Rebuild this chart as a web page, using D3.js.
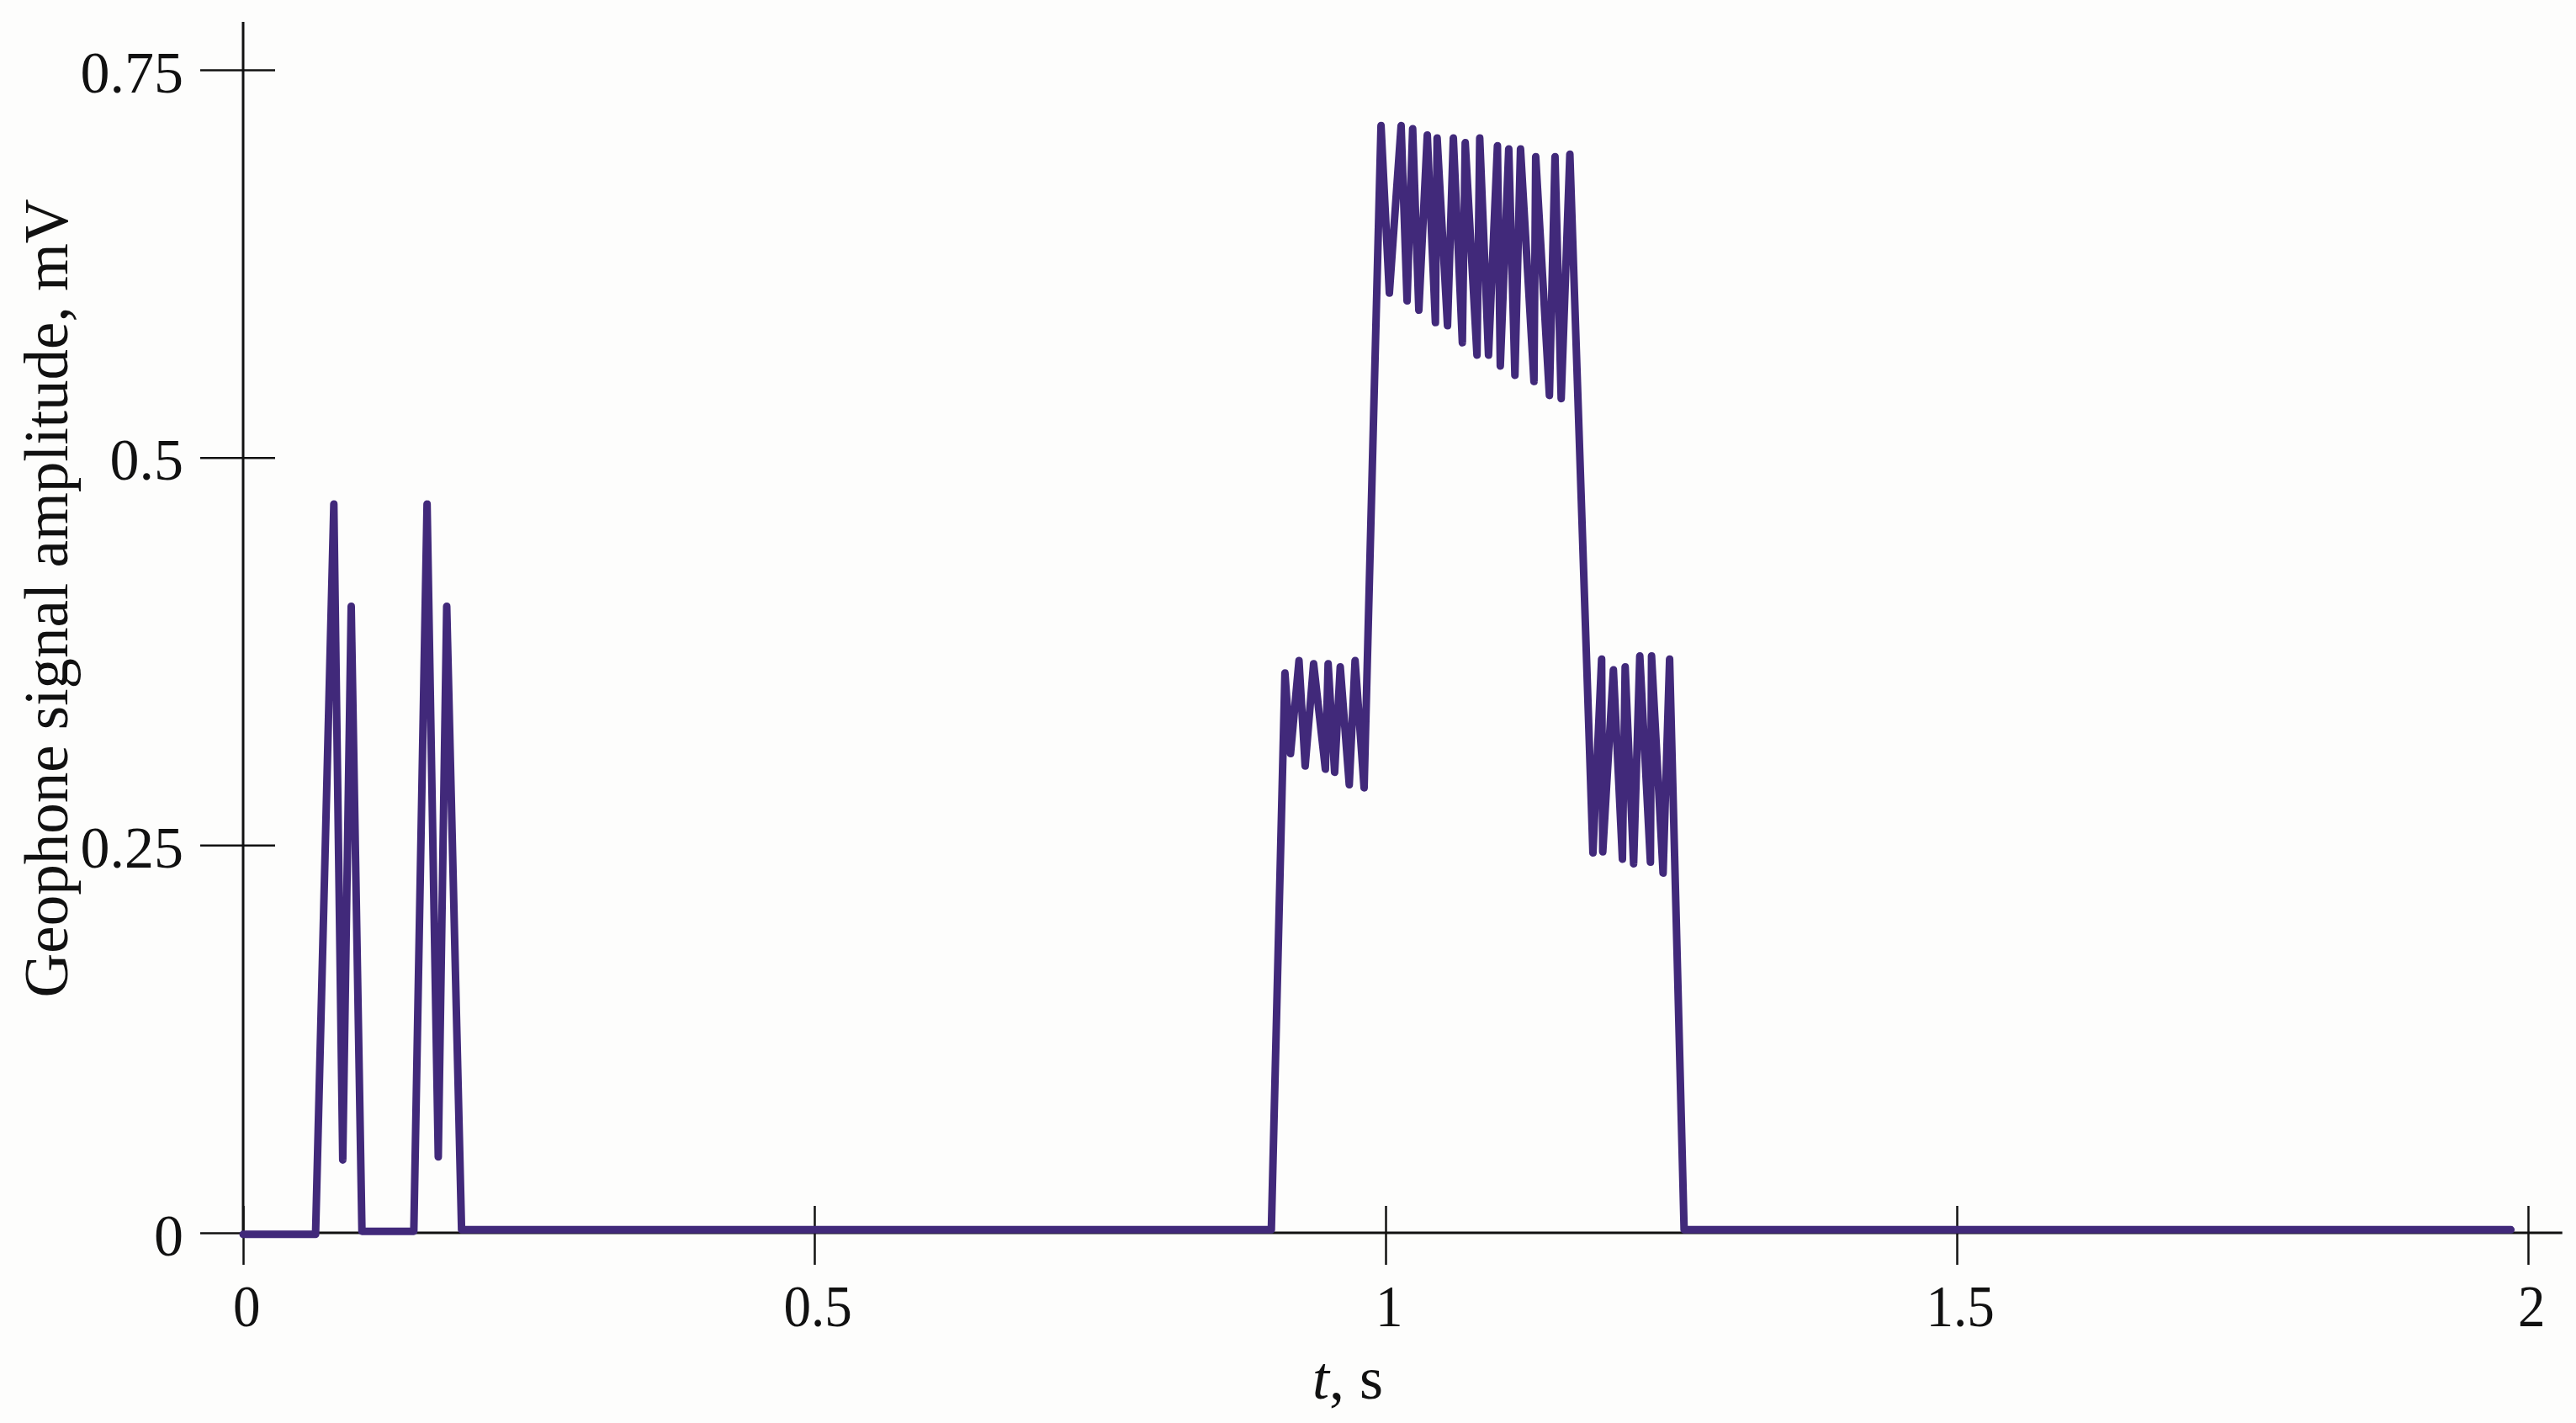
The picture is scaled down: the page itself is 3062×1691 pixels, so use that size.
<!DOCTYPE html>
<html>
<head>
<meta charset="utf-8">
<script src="https://cdn.jsdelivr.net/npm/d3@7"></script>
<style>
  html, body { margin: 0; padding: 0; background: #fdfdfc; }
  svg { display: block; }
</style>
</head>
<body>
<div id="chart"></div>
<script>
// 数据：时间 (s) 与检波器信号幅值 (mV)
const times = [
    0, 0.0634, 0.0794, 0.0872, 0.0946, 0.1040, 0.1494, 0.1610, 0.1708, 0.1782, 0.1912,
    0.9000, 0.9119, 0.9168, 0.9242, 0.9296, 0.9370, 0.9473, 0.9497, 0.9554, 0.9603,
    0.9682, 0.9733, 0.9812, 0.9960, 1.0033, 1.0136, 1.0188, 1.0237, 1.0291, 1.0365,
    1.0436, 1.0451, 1.0542, 1.0593, 1.0672, 1.0697, 1.0800, 1.0824, 1.0901, 1.0979,
    1.1004, 1.1078, 1.1132, 1.1181, 1.1299, 1.1314, 1.1434, 1.1483, 1.1537, 1.1613,
    1.1815, 1.1891, 1.1901, 1.1994, 1.2073, 1.2097, 1.2171, 1.2225, 1.2318, 1.2328,
    1.2429, 1.2486, 1.2613, 1.985
];
const amplitudes = [
    -0.001, -0.001, 0.470, 0.047, 0.404, 0.001, 0.001, 0.470, 0.049, 0.404, 0.002,
    0.002, 0.361, 0.309, 0.369, 0.301, 0.367, 0.299, 0.367, 0.297, 0.365,
    0.289, 0.369, 0.287, 0.714, 0.606, 0.714, 0.601, 0.712, 0.595, 0.708,
    0.587, 0.706, 0.585, 0.706, 0.574, 0.703, 0.566, 0.706, 0.566, 0.701,
    0.559, 0.699, 0.553, 0.699, 0.549, 0.694, 0.540, 0.694, 0.538, 0.6956,
    0.245, 0.370, 0.2457, 0.363, 0.241, 0.365, 0.238, 0.372, 0.239, 0.372,
    0.232, 0.370, 0.002, 0.002
];
const xTicks = [0, 0.5, 1, 1.5, 2];
const xTickLabels = ["0", "0.5", "1", "1.5", "2"];
const yTicks = [0, 0.25, 0.5, 0.75];
const yTickLabels = ["0", "0.25", "0.5", "0.75"];

const width = 3062;
const height = 1691;
const lineColor = "#41297a";
const inkColor = "#111";
const font = "'Liberation Serif', 'Times New Roman', serif";

const svg = d3.select("#chart")
    .append("svg")
    .attr("width", width)
    .attr("height", height);

svg.append("rect")
    .attr("width", width)
    .attr("height", height)
    .attr("fill", "#fdfdfc");

// 比例尺
const x = d3.scaleLinear().domain([0, 2]).range([289, 3005]);
const y = d3.scaleLinear().domain([0, 0.75]).range([1465, 83]);

// 坐标轴主线
svg.append("line")
    .attr("x1", x(0)).attr("x2", x(2.03))
    .attr("y1", y(0)).attr("y2", y(0))
    .attr("stroke", inkColor).attr("stroke-width", 3);

svg.append("line")
    .attr("x1", x(0)).attr("x2", x(0))
    .attr("y1", y(0)).attr("y2", y(0.781))
    .attr("stroke", inkColor).attr("stroke-width", 3);

// X 轴刻度（穿过轴线）
const xAxis = svg.append("g")
    .attr("transform", `translate(0,${y(0)})`)
    .call(d3.axisBottom(x).tickValues(xTicks).tickFormat((d, i) => xTickLabels[i]).tickSize(0));
xAxis.select(".domain").remove();
xAxis.selectAll(".tick line")
    .attr("y1", -32).attr("y2", 38)
    .attr("stroke", inkColor).attr("stroke-width", 2.5);
xAxis.selectAll(".tick text")
    .attr("x", 4)
    .attr("y", 111)
    .attr("dy", null)
    .attr("transform", "scale(0.93,1)")
    .attr("font-family", font)
    .attr("font-size", 70)
    .attr("fill", inkColor);

// Y 轴刻度（穿过轴线）
const yAxis = svg.append("g")
    .attr("transform", `translate(${x(0)},0)`)
    .call(d3.axisLeft(y).tickValues(yTicks).tickFormat((d, i) => yTickLabels[i]).tickSize(0));
yAxis.select(".domain").remove();
yAxis.selectAll(".tick line")
    .attr("x1", -51).attr("x2", 38)
    .attr("stroke", inkColor).attr("stroke-width", 2.5);
yAxis.selectAll(".tick text")
    .attr("x", -71)
    .attr("dy", 26)
    .attr("text-anchor", "end")
    .attr("font-family", font)
    .attr("font-size", 70)
    .attr("fill", inkColor);

// 信号曲线
const data = times.map((t, i) => ({ t, v: amplitudes[i] }));
const line = d3.line()
    .x(d => x(d.t))
    .y(d => y(d.v));

svg.append("path")
    .datum(data)
    .attr("d", line)
    .attr("fill", "none")
    .attr("stroke", lineColor)
    .attr("stroke-width", 9)
    .attr("stroke-linejoin", "round")
    .attr("stroke-linecap", "round");

// 轴标题
const xTitle = svg.append("text")
    .attr("x", 1602)
    .attr("y", 1662)
    .attr("text-anchor", "middle")
    .attr("font-family", font)
    .attr("font-size", 72)
    .attr("fill", inkColor);
xTitle.append("tspan").attr("font-style", "italic").text("t");
xTitle.append("tspan").text(", s");

svg.append("text")
    .attr("transform", "translate(80,711) rotate(-90)")
    .attr("text-anchor", "middle")
    .attr("font-family", font)
    .attr("font-size", 73)
    .attr("fill", inkColor)
    .text("Geophone signal amplitude, mV");
</script>
</body>
</html>
